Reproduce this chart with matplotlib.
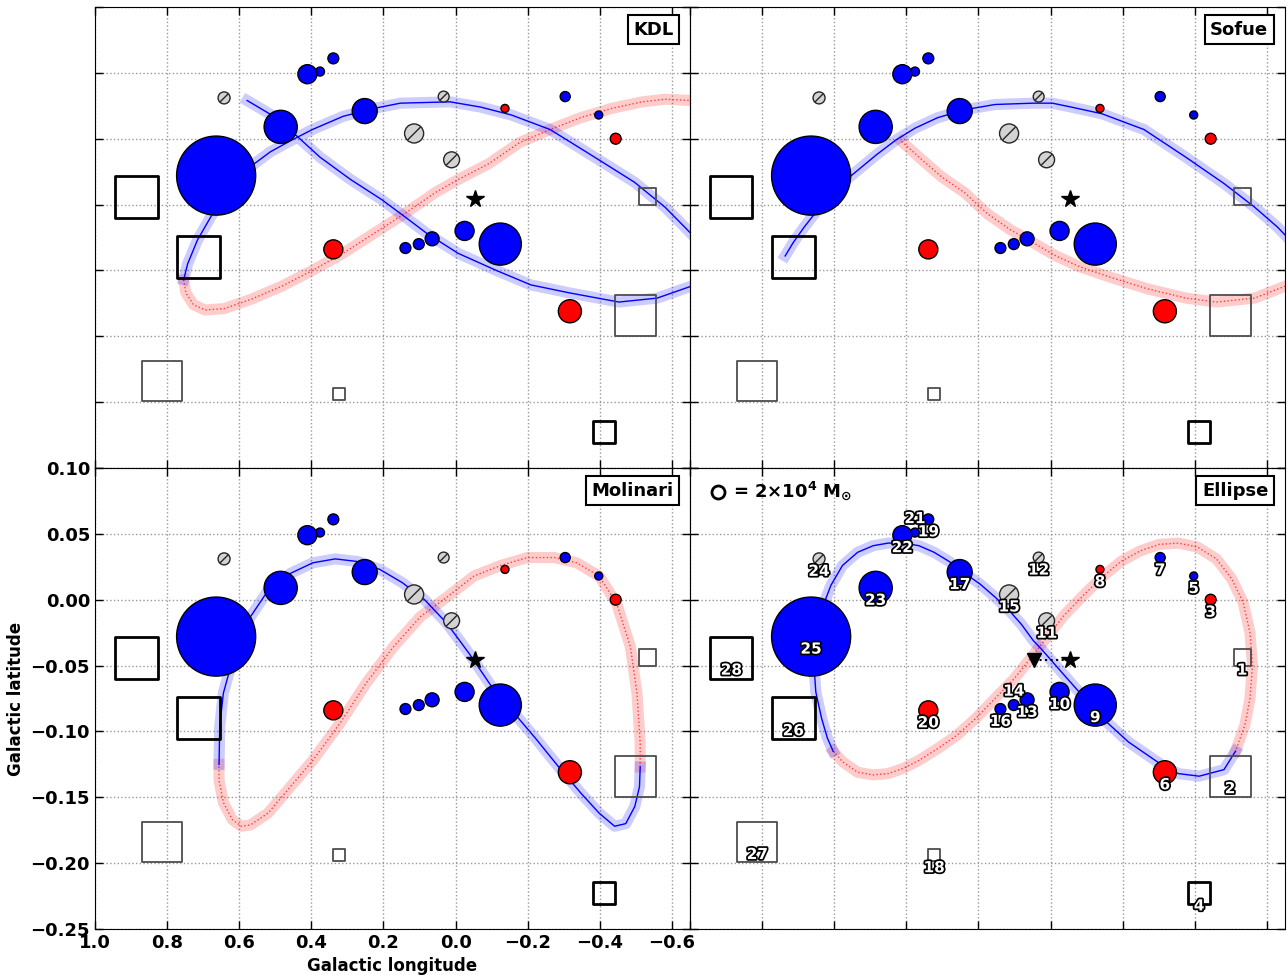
import numpy as np
import matplotlib
matplotlib.use('Agg')
import matplotlib.pyplot as plt
import matplotlib.patheffects as pe
from matplotlib.path import Path
from matplotlib.ticker import MultipleLocator

plt.rcParams['font.family'] = 'DejaVu Sans'
plt.rcParams['font.weight'] = 'bold'
plt.rcParams['axes.labelweight'] = 'bold'

# clouds: id, galactic longitude, latitude, mass (1e4 Msun), type
ids = list(range(1, 29))
lon = [-0.531, -0.498, -0.444, -0.412, -0.397, -0.317, -0.304, -0.137, -0.124, -0.025,
       0.011, 0.033, 0.065, 0.102, 0.115, 0.139, 0.252, 0.323, 0.339, 0.339,
       0.376, 0.411, 0.485, 0.642, 0.664, 0.713, 0.813, 0.885]
lat = [-0.044, -0.134, 0.000, -0.223, 0.018, -0.131, 0.032, 0.023, -0.080, -0.070,
       -0.016, 0.032, -0.076, -0.080, 0.004, -0.083, 0.021, -0.194, 0.061, -0.084,
       0.051, 0.049, 0.009, 0.031, -0.028, -0.090, -0.184, -0.044]
mass = [3.4, 20, 1.4, 5.7, 0.76, 6.3, 1.2, 0.76, 21, 4.3,
        3.0, 1.4, 2.3, 1.4, 4.3, 1.4, 7.4, 1.7, 1.4, 4.3,
        0.96, 4.3, 13, 1.7, 74, 21, 19, 21]
kind = ['sq', 'sq', 'red', 'sq', 'blue', 'red', 'blue', 'red', 'blue', 'blue',
        'grey', 'grey', 'blue', 'blue', 'grey', 'blue', 'blue', 'sq', 'blue', 'red',
        'blue', 'blue', 'blue', 'grey', 'blue', 'sq', 'sq', 'sq']

sgra_l, sgra_b = -0.055, -0.046
centre_l, centre_b = 0.046, -0.046

# orbit models: near side (blue) and far side (red)
kdl_near_l = [0.578, 0.504, 0.440, 0.376, 0.291, 0.206, 0.142, 0.079, -0.007, -0.113,
              -0.209, -0.315, -0.453, -0.559, -0.653, np.nan,
              -0.653, -0.581, -0.496, -0.368, -0.262, -0.155, -0.070, 0.015, 0.153, 0.227,
              0.312, 0.397, 0.461, 0.514, 0.568, 0.621, 0.674, 0.716, 0.743, 0.754]
kdl_near_b = [0.029, 0.017, 0.002, -0.014, -0.031, -0.046, -0.059, -0.072, -0.087, -0.100,
              -0.111, -0.117, -0.124, -0.121, -0.112, np.nan,
              -0.072, -0.052, -0.033, -0.011, 0.007, 0.018, 0.024, 0.028, 0.027, 0.023,
              0.017, 0.007, -0.002, -0.010, -0.021, -0.034, -0.057, -0.077, -0.095, -0.107]
kdl_far_l = [0.754, 0.748, 0.727, 0.695, 0.642, 0.568, 0.482, 0.397, 0.312, 0.227,
             0.142, 0.057, -0.007, -0.092, -0.177, -0.262, -0.347, -0.432, -0.517, -0.581, -0.653]
kdl_far_b = [-0.107, -0.117, -0.126, -0.130, -0.129, -0.122, -0.112, -0.100, -0.087, -0.072,
             -0.057, -0.041, -0.031, -0.019, -0.003, 0.007, 0.016, 0.023, 0.028, 0.030, 0.029]

sofue_near_l = [0.736, 0.714, 0.683, 0.640, 0.588, 0.535, 0.482, 0.429, 0.376, 0.313,
                0.238, 0.154, 0.048, -0.005, -0.058, -0.142, -0.259, -0.375, -0.481, -0.566,
                -0.629, -0.650]
sofue_near_b = [-0.089, -0.079, -0.067, -0.052, -0.036, -0.024, -0.012, -0.001, 0.008, 0.016,
                0.022, 0.026, 0.027, 0.027, 0.024, 0.019, 0.007, -0.014, -0.034, -0.052,
                -0.067, -0.073]
sofue_far_l = [0.413, 0.365, 0.302, 0.238, 0.175, 0.112, 0.048, -0.015, -0.079, -0.164,
               -0.269, -0.375, -0.460, -0.566, -0.650]
sofue_far_b = [-0.002, -0.014, -0.029, -0.041, -0.057, -0.069, -0.079, -0.089, -0.097, -0.105,
               -0.114, -0.121, -0.124, -0.121, -0.112]

mol_near_l = [0.656, 0.654, 0.644, 0.619, 0.569, 0.520, 0.458, 0.396, 0.334, 0.272,
              0.210, 0.148, 0.086, 0.024, -0.038, -0.100, -0.162, -0.224, -0.286, -0.348,
              -0.398, -0.441, -0.472, -0.497, -0.510, -0.512]
mol_near_b = [-0.125, -0.096, -0.071, -0.046, -0.013, 0.007, 0.020, 0.028, 0.031, 0.029,
              0.023, 0.013, 0.000, -0.018, -0.041, -0.066, -0.086, -0.106, -0.127, -0.147,
              -0.162, -0.172, -0.170, -0.157, -0.142, -0.127]
mol_far_l = [-0.512, -0.512, -0.503, -0.485, -0.447, -0.398, -0.336, -0.274, -0.199, -0.125,
             -0.051, 0.024, 0.098, 0.173, 0.247, 0.321, 0.396, 0.458, 0.520, 0.569,
             0.594, 0.619, 0.644, 0.656, 0.656]
mol_far_b = [-0.127, -0.109, -0.071, -0.036, -0.003, 0.018, 0.028, 0.032, 0.032, 0.026,
             0.018, 0.002, -0.013, -0.036, -0.063, -0.094, -0.122, -0.142, -0.162, -0.171,
             -0.172, -0.167, -0.154, -0.137, -0.125]

ell_near_l = [-0.513, -0.481, -0.412, -0.354, -0.317, -0.269, -0.216, -0.164, -0.124, -0.079,
              -0.037, -0.005, 0.027, 0.048, 0.080, 0.112, 0.154, 0.196, 0.238, 0.281,
              0.323, 0.365, 0.408, 0.450, 0.492, 0.535, 0.577, 0.609, 0.630, 0.651,
              0.656, 0.651, 0.635, 0.619, 0.603]
ell_near_b = [-0.115, -0.129, -0.134, -0.132, -0.127, -0.118, -0.108, -0.095, -0.085, -0.070,
              -0.057, -0.047, -0.037, -0.031, -0.019, -0.009, 0.002, 0.012, 0.020, 0.029,
              0.036, 0.041, 0.043, 0.043, 0.041, 0.036, 0.026, 0.011, -0.004, -0.027,
              -0.050, -0.070, -0.090, -0.105, -0.115]
ell_far_l = [0.603, 0.577, 0.535, 0.492, 0.450, 0.408, 0.365, 0.313, 0.260, 0.207,
             0.154, 0.101, 0.048, 0.006, -0.037, -0.090, -0.142, -0.195, -0.248, -0.301,
             -0.354, -0.407, -0.460, -0.502, -0.534, -0.553, -0.560, -0.553, -0.539, -0.513]
ell_far_b = [-0.115, -0.123, -0.131, -0.133, -0.132, -0.128, -0.122, -0.113, -0.103, -0.090,
             -0.075, -0.060, -0.042, -0.027, -0.012, 0.003, 0.017, 0.029, 0.037, 0.042,
             0.043, 0.040, 0.031, 0.016, -0.002, -0.025, -0.050, -0.075, -0.095, -0.115]

models = [('KDL', kdl_near_l, kdl_near_b, kdl_far_l, kdl_far_b),
          ('Sofue', sofue_near_l, sofue_near_b, sofue_far_l, sofue_far_b),
          ('Molinari', mol_near_l, mol_near_b, mol_far_l, mol_far_b),
          ('Ellipse', ell_near_l, ell_near_b, ell_far_l, ell_far_b)]

# a single "/" stroke across a circle marker (the extra moveto keeps the scale)
slash = Path([(1, 1), (-0.68, -0.68), (0.68, 0.68)],
             [Path.MOVETO, Path.MOVETO, Path.LINETO])

fig, axes = plt.subplots(2, 2, figsize=(12.87, 9.75), dpi=100, sharex=True, sharey=True)
fig.subplots_adjust(left=0.0738, right=0.9984, bottom=0.0472, top=0.9928, wspace=0, hspace=0)

lon = np.array(lon)
lat = np.array(lat)
mass = np.array(mass)
kind = np.array(kind)
size = 43.8 * mass   # 2e4 Msun -> 13 px circle
bold_sq = [4, 26, 28]

for ax, (name, nl, nb, fl, fb) in zip(axes.flat, models):
    ax.set_xlim(1.0, -0.65)
    ax.set_ylim(-0.25, 0.10)
    ax.xaxis.set_major_locator(MultipleLocator(0.2))
    ax.yaxis.set_major_locator(MultipleLocator(0.05))
    ax.set_axisbelow(True)
    ax.grid(True, ls=':', color='0.6', lw=1)
    ax.tick_params(direction='in', top=True, right=True, length=6, width=1, labelsize=13)

    # far side
    ax.plot(fl, fb, color='red', lw=8, alpha=0.2, zorder=2)
    ax.plot(fl, fb, color='red', lw=1, ls=':', alpha=0.7, zorder=2)
    # near side
    ax.plot(nl, nb, color='blue', lw=8, alpha=0.2, zorder=2)
    ax.plot(nl, nb, color='blue', lw=1, zorder=2)

    m = kind == 'blue'
    ax.scatter(lon[m], lat[m], s=size[m], c='blue', edgecolors='black', linewidths=1, zorder=3)
    m = kind == 'red'
    ax.scatter(lon[m], lat[m], s=size[m], c='red', edgecolors='black', linewidths=1, zorder=3)
    m = kind == 'grey'
    ax.scatter(lon[m], lat[m], s=size[m], c='lightgrey', edgecolors='0.15', linewidths=1,
               zorder=3)
    ax.scatter(lon[m], lat[m], s=size[m], marker=slash, c='0.15', linewidths=1, zorder=3)
    for i in range(len(ids)):
        if kind[i] != 'sq':
            continue
        if ids[i] in bold_sq:
            ec, lw = 'black', 2
        else:
            ec, lw = '0.3', 1.3
        ax.scatter(lon[i], lat[i], s=size[i], marker='s', facecolors='none',
                   edgecolors=ec, linewidths=lw, zorder=3)

    ax.plot(sgra_l, sgra_b, marker='*', color='black', ms=13, ls='none', zorder=4)
    ax.text(0.972, 0.970, name, transform=ax.transAxes, ha='right', va='top', fontsize=13,
            fontweight='bold', zorder=5,
            bbox=dict(boxstyle='square,pad=0.3', fc='white', ec='black', lw=1.5))

# ellipse panel extras
ax = axes[1, 1]
ax.plot([centre_l, sgra_l], [centre_b, sgra_b], color='black', ls=':', lw=1.5, zorder=4)
ax.plot(centre_l, centre_b, marker='v', color='black', ms=10, ls='none', zorder=4)
for i in range(len(ids)):
    dy = 10 if ids[i] in (14, 21) else -9
    ax.annotate(str(ids[i]), (lon[i], lat[i]), xytext=(0, dy), textcoords='offset points',
                ha='center', va='center', fontsize=11, fontweight='bold', color='white',
                zorder=6, path_effects=[pe.withStroke(linewidth=2.5, foreground='black')])
ax.scatter([0.047], [0.948], s=88, facecolors='white', edgecolors='black', linewidths=2,
           transform=ax.transAxes, zorder=5)
ax.text(0.072, 0.950, '= 2×10$^{\\mathbf{4}}$ M$_{\\odot}$', transform=ax.transAxes,
        ha='left', va='center', fontsize=13, fontweight='bold')

# only the lower-left panel carries tick labels
axes[0, 0].tick_params(labelleft=False, labelbottom=False)
axes[1, 1].tick_params(labelleft=False, labelbottom=False)
axes[1, 0].set_xlabel('Galactic longitude', fontsize=12)
axes[1, 0].set_ylabel('Galactic latitude', fontsize=12)

fig.savefig('out.png', dpi=100)
